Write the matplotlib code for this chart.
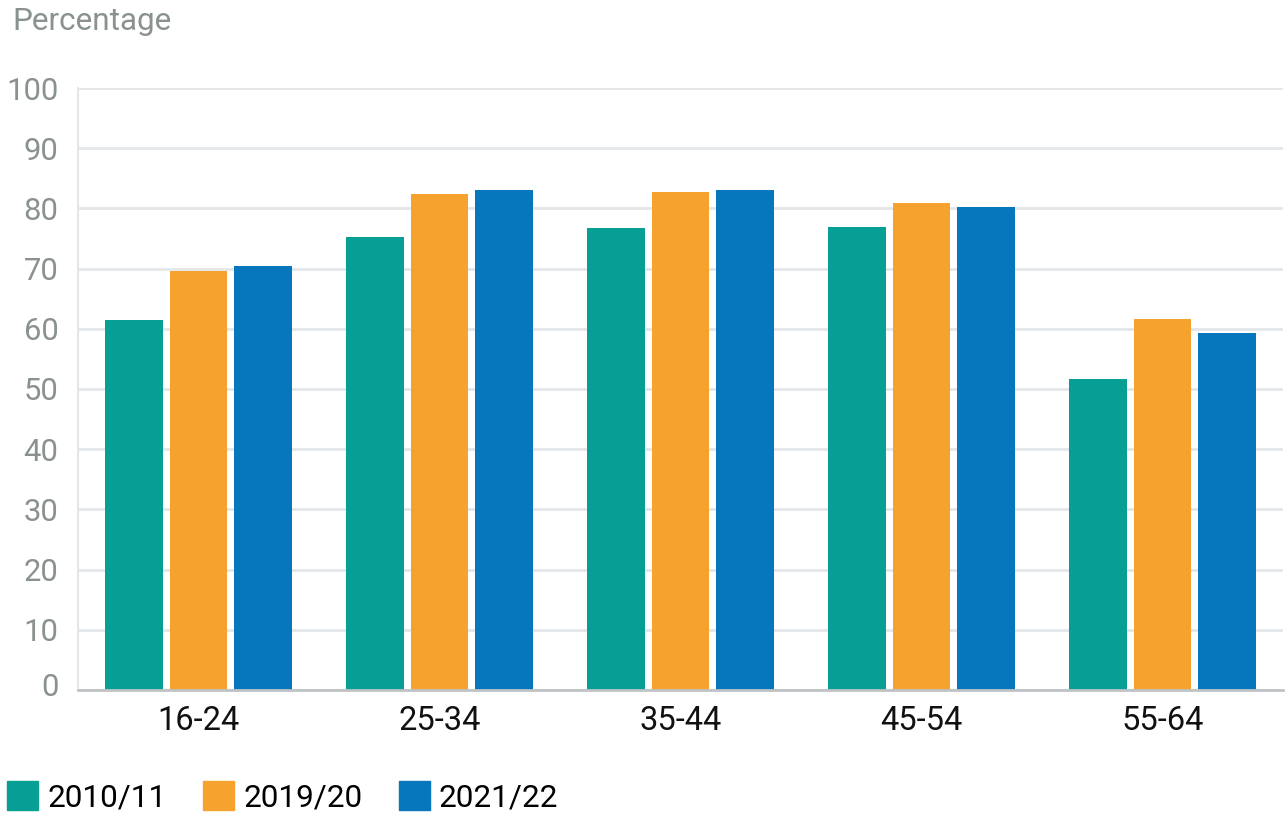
import numpy as np
import matplotlib.pyplot as plt
import matplotlib.transforms as mtransforms
from matplotlib.patches import Patch

plt.rcParams['font.family'] = ['Roboto', 'DejaVu Sans']

age_groups = ["16-24", "25-34", "35-44", "45-54", "55-64"]
years = ["2010/11", "2019/20", "2021/22"]
v_2010 = [61.4, 75.2, 76.7, 76.9, 51.6]
v_2019 = [69.6, 82.4, 82.7, 80.9, 61.6]
v_2021 = [70.4, 83.1, 83.1, 80.2, 59.3]
colors = ["#079e96", "#f6a22f", "#0676bd"]

fig = plt.figure(figsize=(12.88, 8.16), dpi=100)
ax = fig.add_axes([78 / 1288, 1 - 690 / 816, 1205 / 1288, 602 / 816])

x = np.arange(len(age_groups))
width = 0.24
step = 0.268
for i, vals in enumerate([v_2010, v_2019, v_2021]):
    ax.bar(x + (i - 1) * step, vals, width, color=colors[i], zorder=3)

ax.set_xlim(-0.5, len(age_groups) - 0.5)
ax.set_ylim(0, 100)
ax.set_yticks(range(0, 101, 10))
ax.set_xticks(x)
ax.set_xticklabels(age_groups)
ax.tick_params(axis='y', length=0, pad=14, labelsize=22.3, labelcolor="#8a9191")
ax.tick_params(axis='x', length=0, pad=11, labelsize=23.5, labelcolor="#111111")
ax.grid(axis='y', color="#e4e7ea", linewidth=2, zorder=0)

# the zero label sits a little above the baseline in the original
zero = ax.yaxis.get_major_ticks()[0].label1
zero.set_transform(zero.get_transform() +
                   mtransforms.ScaledTranslation(0, 6 / 100, fig.dpi_scale_trans))

for s in ["top", "right"]:
    ax.spines[s].set_visible(False)
ax.spines["left"].set_color("#e4e7ea")
ax.spines["left"].set_linewidth(1.5)
ax.spines["bottom"].set_color("#bfc3c6")
ax.spines["bottom"].set_linewidth(2)
ax.spines["bottom"].set_zorder(4)

fig.text(12 / 1288, 1 - 22 / 816, "Percentage", fontsize=22.7, color="#8a9191",
         va="center", ha="left")

handles = [Patch(color=c) for c in colors]
fig.legend(handles, years, loc="lower left", bbox_to_anchor=(0.0, -0.004), ncol=3,
           frameon=False, fontsize=22.7, handlelength=1.0, handleheight=1.0,
           handletextpad=0.28, columnspacing=1.15, borderaxespad=0.12, borderpad=0.1)

fig.savefig("out.png", dpi=100)
